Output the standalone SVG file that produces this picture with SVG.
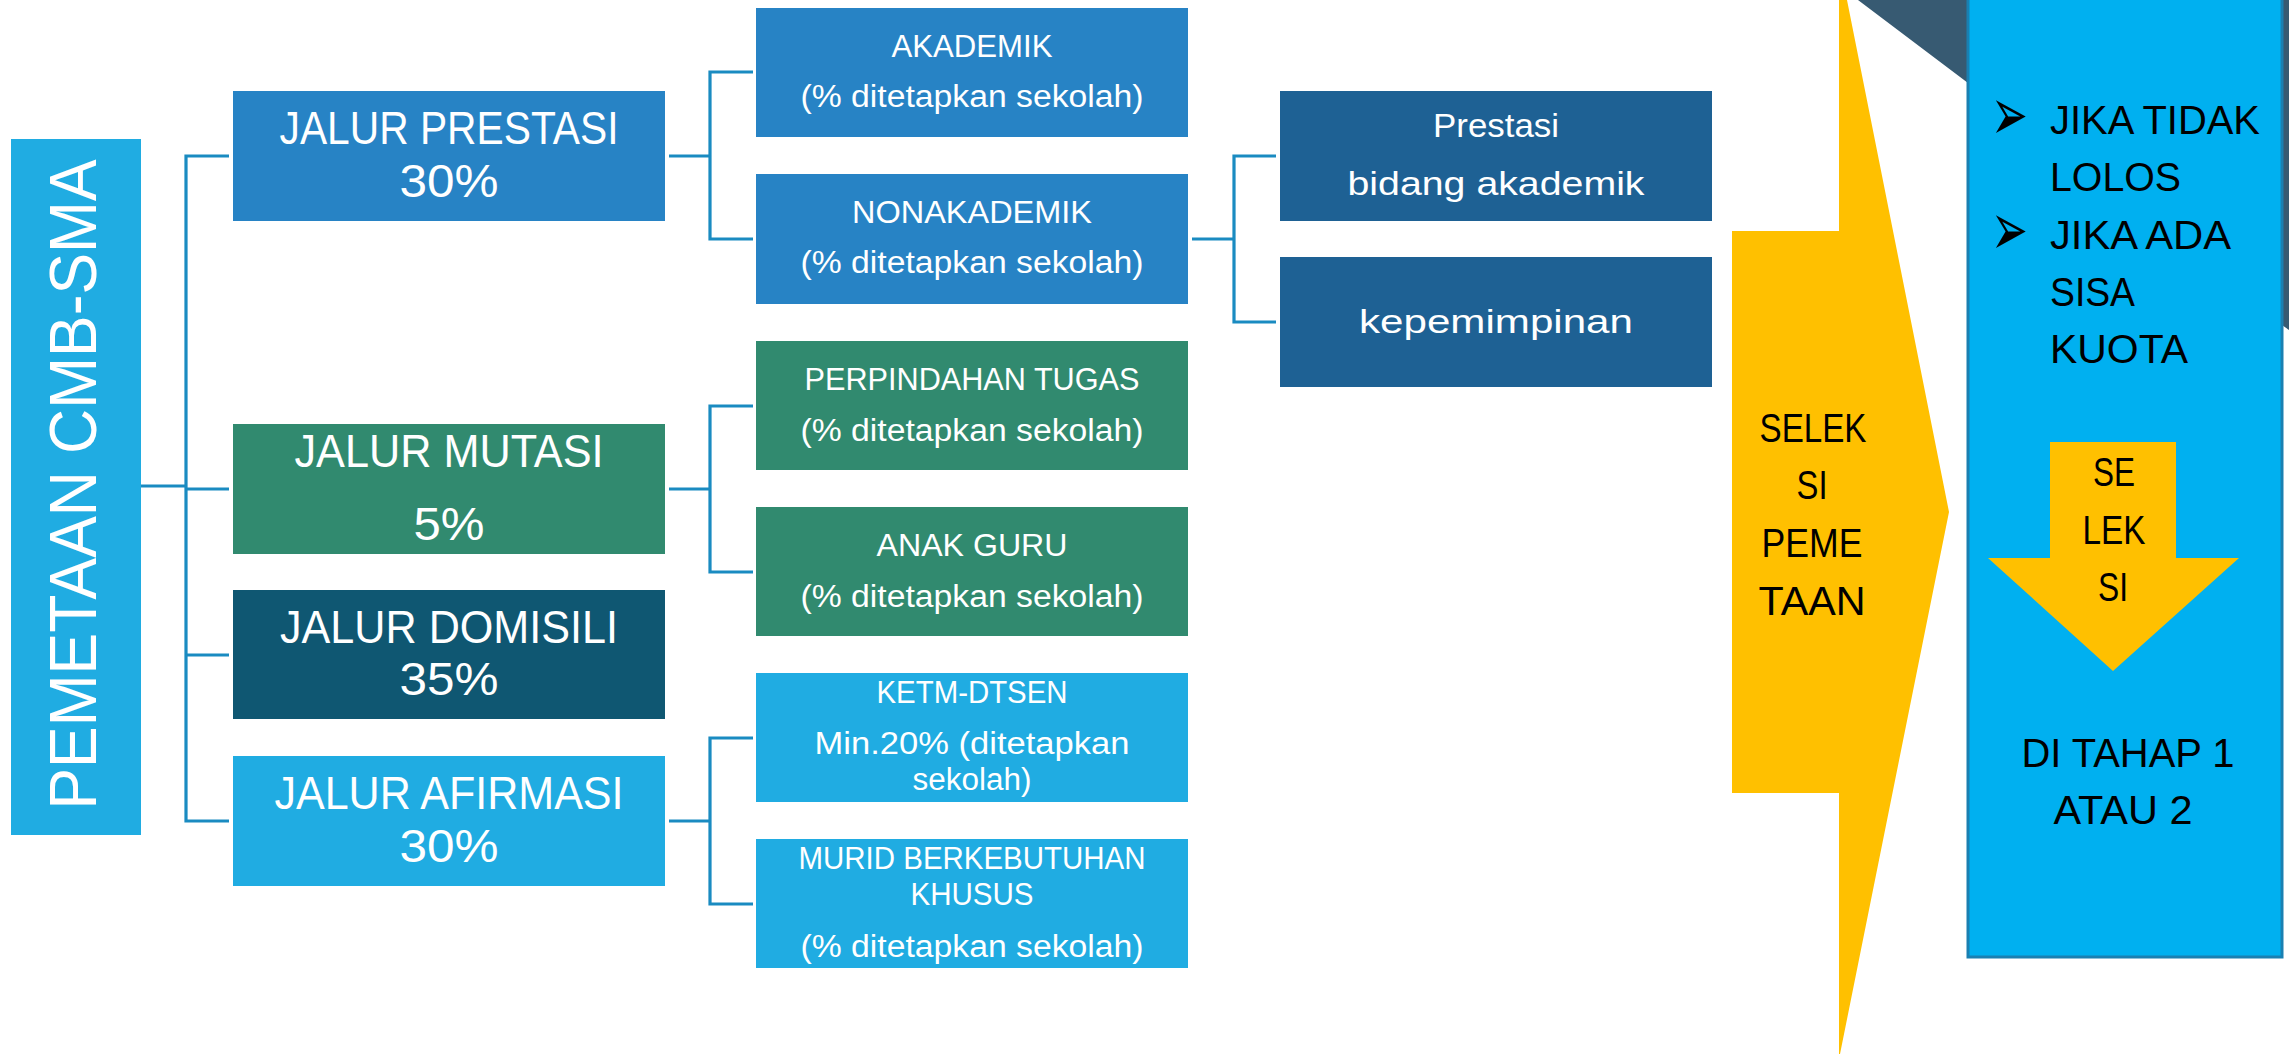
<svg xmlns="http://www.w3.org/2000/svg" width="2289" height="1054" viewBox="0 0 2289 1054">
<style>
.w{fill:#fff;font-family:"Liberation Sans",Arial,sans-serif;text-anchor:middle}
.b{fill:#000;font-family:"Liberation Sans",Arial,sans-serif}
.bul{fill:#000;font-family:"DejaVu Sans",sans-serif;font-size:44px}
.l1{font-size:46px}
.l2{font-size:31px}
.l3{font-size:33px}
.r{font-size:41px}
.conn{fill:none;stroke:#1A8BC1;stroke-width:3.2}
.bl{fill:#20ACE2}
.pr{fill:#2783C5}
.mu{fill:#318A6F}
.dm{fill:#0F5772}
.dk{fill:#1E6194}
</style>
<rect width="2289" height="1054" fill="#fff"/>

<g id="connectors">
<path class="conn" d="M141,486 H186 M229,156 H186 V821 H229 M186,489 H229 M186,655 H229"/>
<path class="conn" d="M669,156 H710 M753,72 H710 V239 H753"/>
<path class="conn" d="M669,489 H710 M753,406 H710 V572 H753"/>
<path class="conn" d="M669,821 H710 M753,738 H710 V904 H753"/>
<path class="conn" d="M1192,239 H1234 M1276,156 H1234 V322 H1276"/>
</g>

<g id="pemetaan">
<rect class="bl" x="11" y="139" width="130" height="696"/>
<text class="w" transform="translate(95.5,484.5) rotate(-90)" font-size="67" textLength="650" lengthAdjust="spacingAndGlyphs">PEMETAAN CMB-SMA</text>
</g>

<g id="jalur-prestasi">
<rect class="pr" x="233" y="91" width="432" height="130"/>
<text class="w l1" x="449" y="144" textLength="339" lengthAdjust="spacingAndGlyphs">JALUR PRESTASI</text>
<text class="w l1" x="449" y="197" textLength="99" lengthAdjust="spacingAndGlyphs">30%</text>
</g>
<g id="jalur-mutasi">
<rect class="mu" x="233" y="424" width="432" height="130"/>
<text class="w l1" x="449" y="467" textLength="309" lengthAdjust="spacingAndGlyphs">JALUR MUTASI</text>
<text class="w l1" x="449" y="540" textLength="71" lengthAdjust="spacingAndGlyphs">5%</text>
</g>
<g id="jalur-domisili">
<rect class="dm" x="233" y="590" width="432" height="129"/>
<text class="w l1" x="449" y="643" textLength="338" lengthAdjust="spacingAndGlyphs">JALUR DOMISILI</text>
<text class="w l1" x="449" y="695" textLength="99" lengthAdjust="spacingAndGlyphs">35%</text>
</g>
<g id="jalur-afirmasi">
<rect class="bl" x="233" y="756" width="432" height="130"/>
<text class="w l1" x="449" y="809" textLength="349" lengthAdjust="spacingAndGlyphs">JALUR AFIRMASI</text>
<text class="w l1" x="449" y="862" textLength="99" lengthAdjust="spacingAndGlyphs">30%</text>
</g>

<g id="akademik">
<rect class="pr" x="756" y="8" width="432" height="129"/>
<text class="w l2" x="972" y="57" textLength="161" lengthAdjust="spacingAndGlyphs">AKADEMIK</text>
<text class="w l2" x="972" y="107" textLength="343" lengthAdjust="spacingAndGlyphs">(% ditetapkan sekolah)</text>
</g>
<g id="nonakademik">
<rect class="pr" x="756" y="174" width="432" height="130"/>
<text class="w l2" x="972" y="223" textLength="240" lengthAdjust="spacingAndGlyphs">NONAKADEMIK</text>
<text class="w l2" x="972" y="273" textLength="343" lengthAdjust="spacingAndGlyphs">(% ditetapkan sekolah)</text>
</g>
<g id="perpindahan-tugas">
<rect class="mu" x="756" y="341" width="432" height="129"/>
<text class="w l2" x="972" y="390" textLength="335" lengthAdjust="spacingAndGlyphs">PERPINDAHAN TUGAS</text>
<text class="w l2" x="972" y="441" textLength="343" lengthAdjust="spacingAndGlyphs">(% ditetapkan sekolah)</text>
</g>
<g id="anak-guru">
<rect class="mu" x="756" y="507" width="432" height="129"/>
<text class="w l2" x="972" y="556" textLength="191" lengthAdjust="spacingAndGlyphs">ANAK GURU</text>
<text class="w l2" x="972" y="607" textLength="343" lengthAdjust="spacingAndGlyphs">(% ditetapkan sekolah)</text>
</g>
<g id="ketm-dtsen">
<rect class="bl" x="756" y="673" width="432" height="129"/>
<text class="w l2" x="972" y="703" textLength="191" lengthAdjust="spacingAndGlyphs">KETM-DTSEN</text>
<text class="w l2" x="972" y="754" textLength="315" lengthAdjust="spacingAndGlyphs">Min.20% (ditetapkan</text>
<text class="w l2" x="972" y="790" textLength="119" lengthAdjust="spacingAndGlyphs">sekolah)</text>
</g>
<g id="murid-berkebutuhan-khusus">
<rect class="bl" x="756" y="839" width="432" height="129"/>
<text class="w l2" x="972" y="869" textLength="347" lengthAdjust="spacingAndGlyphs">MURID BERKEBUTUHAN</text>
<text class="w l2" x="972" y="905" textLength="123" lengthAdjust="spacingAndGlyphs">KHUSUS</text>
<text class="w l2" x="972" y="957" textLength="343" lengthAdjust="spacingAndGlyphs">(% ditetapkan sekolah)</text>
</g>

<g id="prestasi-akademik">
<rect class="dk" x="1280" y="91" width="432" height="130"/>
<text class="w l3" x="1496" y="137" textLength="126" lengthAdjust="spacingAndGlyphs">Prestasi</text>
<text class="w l3" x="1496" y="195" textLength="297" lengthAdjust="spacingAndGlyphs">bidang akademik</text>
</g>
<g id="kepemimpinan">
<rect class="dk" x="1280" y="257" width="432" height="130"/>
<text class="w l3" x="1496" y="333" textLength="274" lengthAdjust="spacingAndGlyphs">kepemimpinan</text>
</g>

<g id="seleksi-pemetaan">
<polygon fill="#FFC000" points="1839,0 1847,0 1949,512 1840,1054 1839,1054 1839,793 1732,793 1732,231 1839,231"/>
<text class="b r" text-anchor="middle" x="1813" y="442" textLength="107" lengthAdjust="spacingAndGlyphs">SELEK</text>
<text class="b r" text-anchor="middle" x="1812" y="499" textLength="31" lengthAdjust="spacingAndGlyphs">SI</text>
<text class="b r" text-anchor="middle" x="1812" y="557" textLength="101" lengthAdjust="spacingAndGlyphs">PEME</text>
<text class="b r" text-anchor="middle" x="1812" y="615" textLength="107" lengthAdjust="spacingAndGlyphs">TAAN</text>
</g>

<g id="panel-kanan">
<polygon fill="#375A72" points="1858,0 2289,0 2289,330 2272,318 1968,83"/>
<rect x="1968" y="-4" width="314" height="961" fill="#00B0F0" stroke="#1A80B2" stroke-width="3"/>
<text class="bul" transform="translate(1991,140) scale(1,1.7)">➢</text>
<text class="bul" transform="translate(1991,255) scale(1,1.7)">➢</text>
<text class="b r" x="2050" y="134" textLength="210" lengthAdjust="spacingAndGlyphs">JIKA TIDAK</text>
<text class="b r" x="2050" y="191" textLength="131" lengthAdjust="spacingAndGlyphs">LOLOS</text>
<text class="b r" x="2050" y="249" textLength="181" lengthAdjust="spacingAndGlyphs">JIKA ADA</text>
<text class="b r" x="2050" y="306" textLength="85" lengthAdjust="spacingAndGlyphs">SISA</text>
<text class="b r" x="2050" y="363" textLength="138" lengthAdjust="spacingAndGlyphs">KUOTA</text>
<polygon fill="#FFC000" points="2050,442 2176,442 2176,558 2239,558 2113,671 1988,558 2050,558"/>
<text class="b r" text-anchor="middle" x="2114" y="486" textLength="42" lengthAdjust="spacingAndGlyphs">SE</text>
<text class="b r" text-anchor="middle" x="2114" y="544" textLength="63" lengthAdjust="spacingAndGlyphs">LEK</text>
<text class="b r" text-anchor="middle" x="2113" y="601" textLength="30" lengthAdjust="spacingAndGlyphs">SI</text>
<text class="b r" text-anchor="middle" x="2128" y="767" textLength="213" lengthAdjust="spacingAndGlyphs">DI TAHAP 1</text>
<text class="b r" text-anchor="middle" x="2123" y="824" textLength="139" lengthAdjust="spacingAndGlyphs">ATAU 2</text>
</g>
</svg>
